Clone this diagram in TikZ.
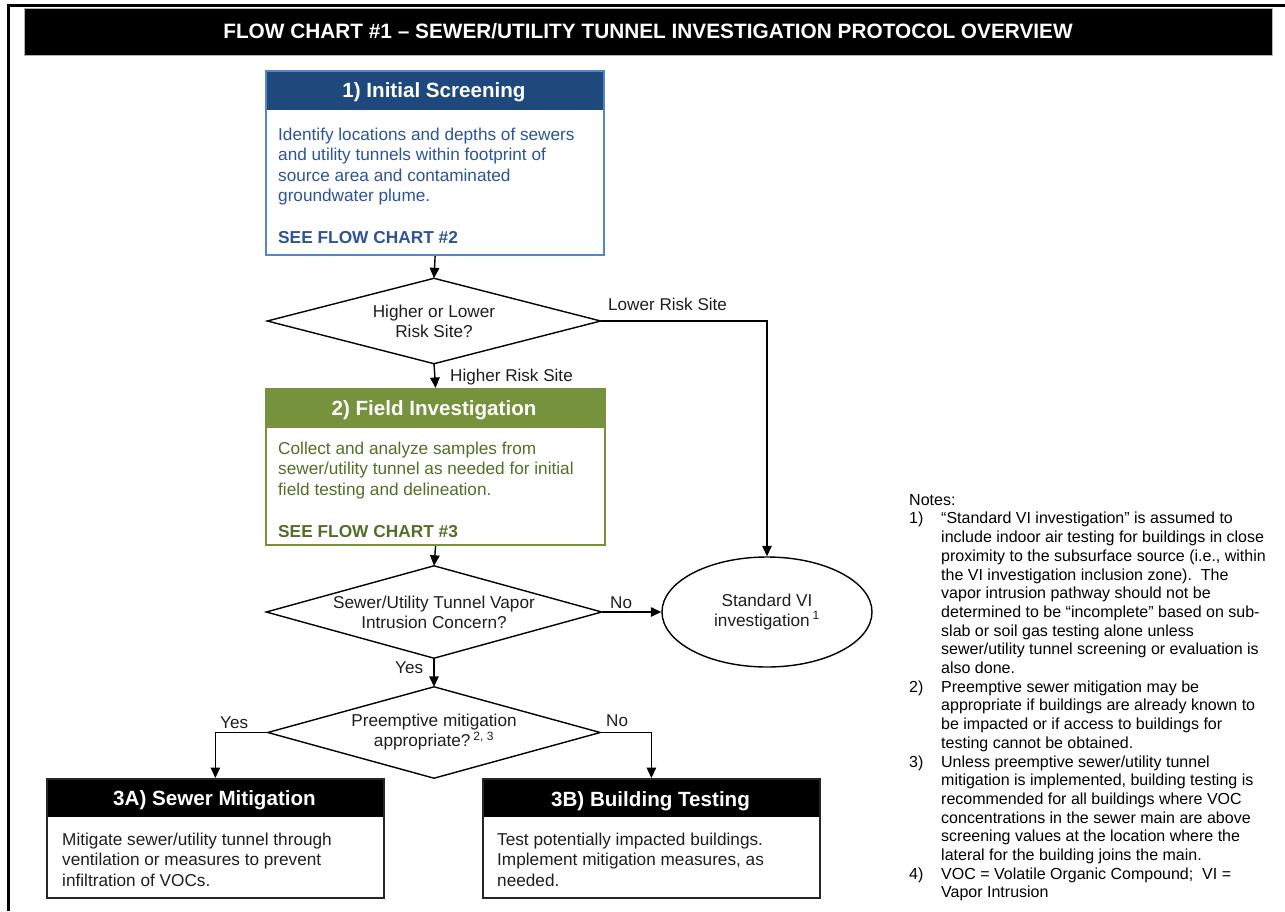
\documentclass[tikz,border=0pt]{standalone}
\usepackage{fontspec}
\setmainfont{Liberation Sans}
\usetikzlibrary{shapes.geometric,arrows.meta}
\definecolor{hdrblue}{RGB}{31,73,125}
\definecolor{brdblue}{RGB}{84,135,200}
\definecolor{txtblue}{RGB}{46,84,150}
\definecolor{grn}{RGB}{118,146,60}
\definecolor{txtgrn}{RGB}{84,110,40}
\definecolor{ink}{RGB}{30,30,30}
\newcommand{\tstrut}{\rule{0pt}{0.8em}}
\begin{document}
\begin{tikzpicture}[x=1pt,y=-1pt,
  hbox/.style 2 args={draw=#1, fill=white, anchor=north west, inner sep=0pt,
     path picture={\fill[#2] (path picture bounding box.north west) rectangle ([yshift=-38.5pt]path picture bounding box.north east);}},
  bodytext/.style={inner sep=0pt, anchor=north west, align=left, font=\fontsize{17.2}{20.5}\selectfont},
  seetext/.style={inner sep=0pt, anchor=base west, font=\bfseries\fontsize{17.3}{20}\selectfont},
  hdr/.style={inner sep=0pt, anchor=base, text=white, font=\bfseries\fontsize{20.6}{24}\selectfont},
  lbl/.style={inner sep=0pt, anchor=base west, text=ink, font=\fontsize{17.1}{20}\selectfont},
  dia/.style={rectangle, inner sep=0pt, align=center, text=ink, font=\fontsize{17.2}{20}\selectfont},
  diaedge/.style={draw=black, line width=1.4pt, line join=miter},
  arr/.style={-{Triangle[length=10.5pt,width=9.5pt]}, line width=1.4pt},
]
\useasboundingbox (0,0) rectangle (1285,911);
% frame
\draw[line width=3pt] (1285,5) -- (8,5) -- (8,911);
% title
\node[fill=black, draw=gray!60, line width=0.8pt, minimum width=1248pt, minimum height=47pt,
      text=white, font=\bfseries\fontsize{20.8}{24}\selectfont] (title) at (648,31.5)
      {FLOW CHART \#1 – SEWER/UTILITY TUNNEL INVESTIGATION PROTOCOL OVERVIEW};

% box 1
\node[hbox={brdblue}{hdrblue}, line width=2.2pt, minimum width=338pt, minimum height=184pt] (b1) at (265,70) {};
\node[hdr] (h1) at (434,97) {1) Initial Screening};
\node[bodytext, text=txtblue] (t1) at (278,126.2) {\tstrut Identify locations and depths of sewers\\and utility tunnels within footprint of\\source area and contaminated\\groundwater plume.};
\node[seetext, text=txtblue] (s1) at (278,243) {SEE FLOW CHART \#2};

% diamond 1
\node[dia, minimum width=333pt, minimum height=85pt] (d1) at (434,321) {Higher or Lower\\Risk Site?};
\draw[diaedge] (d1.north) -- (d1.east) -- (d1.south) -- (d1.west) -- cycle;

% box 2
\node[hbox={grn}{grn}, line width=2.2pt, minimum width=339pt, minimum height=156pt] (b2) at (265,388) {};
\node[hdr] (h2) at (434,415) {2) Field Investigation};
\node[bodytext, text=txtgrn] (t2) at (278,440.2) {\tstrut Collect and analyze samples from\\sewer/utility tunnel as needed for initial\\field testing and delineation.};
\node[seetext, text=txtgrn] (s2) at (278,537) {SEE FLOW CHART \#3};

% diamond 2
\node[dia, minimum width=335pt, minimum height=92pt] (d2) at (434,612) {Sewer/Utility Tunnel Vapor\\Intrusion Concern?};
\draw[diaedge] (d2.north) -- (d2.east) -- (d2.south) -- (d2.west) -- cycle;

% ellipse
\node[ellipse, draw=black, line width=1.4pt, minimum width=210pt, minimum height=110pt, inner sep=0pt,
      align=center, text=ink, font=\fontsize{17.2}{19.5}\selectfont] (e) at (767,612)
      {Standard VI\\investigation\,\textsuperscript{1}};

% diamond 3
\node[dia, minimum width=332pt, minimum height=91pt] (d3) at (434,732.5) {Preemptive mitigation\\appropriate?\,\textsuperscript{2, 3}};
\draw[diaedge] (d3.north) -- (d3.east) -- (d3.south) -- (d3.west) -- cycle;

% box 3A
\node[hbox={black!85}{black}, line width=1.8pt, minimum width=337pt, minimum height=119pt] (b3a) at (46,778) {};
\node[hdr] (h3a) at (214.5,805) {3A) Sewer Mitigation};
\node[bodytext, text=ink] (t3a) at (62,831.2) {\tstrut Mitigate sewer/utility tunnel through\\ventilation or measures to prevent\\infiltration of VOCs.};

% box 3B
\node[hbox={black!85}{black}, line width=1.8pt, minimum width=337pt, minimum height=119pt] (b3b) at (482,778) {};
\node[hdr] (h3b) at (650.5,806) {3B) Building Testing};
\node[bodytext, text=ink] (t3b) at (497,831.2) {\tstrut Test potentially impacted buildings.\\Implement mitigation measures, as\\needed.};

% connectors
\draw[arr] (b1.south) -- (d1.north);
\draw[arr] (d1.south) -- (b2.north);
\draw[arr] (d1.east) -| (e.north);
\draw[arr] (b2.south) -- (d2.north);
\draw[arr] (d2.east) -- (e.west);
\draw[arr] (d2.south) -- (d3.north);
\draw[arr] (d3.west) -| (b3a.north);
\draw[arr] (d3.east) -| (b3b.north);

% labels
\node[lbl] (l1) at (608,310) {Lower Risk Site};
\node[lbl] (l2) at (450,381) {Higher Risk Site};
\node[lbl] (l3) at (610,608) {No};
\node[lbl] (l4) at (395,673) {Yes};
\node[lbl] (l5) at (220,728) {Yes};
\node[lbl] (l6) at (606,726) {No};

% notes
\node[anchor=north west, inner sep=0pt, align=left, text=black, font=\fontsize{16}{18.7}\selectfont] (notes) at (909,492.2)
{\tstrut Notes:\\
\makebox[32pt][l]{1)}“Standard VI investigation” is assumed to\\
\hspace*{32pt}include indoor air testing for buildings in close\\
\hspace*{32pt}proximity to the subsurface source (i.e., within\\
\hspace*{32pt}the VI investigation inclusion zone).\ \ The\\
\hspace*{32pt}vapor intrusion pathway should not be\\
\hspace*{32pt}determined to be “incomplete” based on sub-\\
\hspace*{32pt}slab or soil gas testing alone unless\\
\hspace*{32pt}sewer/utility tunnel screening or evaluation is\\
\hspace*{32pt}also done.\\
\makebox[32pt][l]{2)}Preemptive sewer mitigation may be\\
\hspace*{32pt}appropriate if buildings are already known to\\
\hspace*{32pt}be impacted or if access to buildings for\\
\hspace*{32pt}testing cannot be obtained.\\
\makebox[32pt][l]{3)}Unless preemptive sewer/utility tunnel\\
\hspace*{32pt}mitigation is implemented, building testing is\\
\hspace*{32pt}recommended for all buildings where VOC\\
\hspace*{32pt}concentrations in the sewer main are above\\
\hspace*{32pt}screening values at the location where the\\
\hspace*{32pt}lateral for the building joins the main.\\
\makebox[32pt][l]{4)}VOC = Volatile Organic Compound;\ \ VI =\\
\hspace*{32pt}Vapor Intrusion};
\end{tikzpicture}
\end{document}
